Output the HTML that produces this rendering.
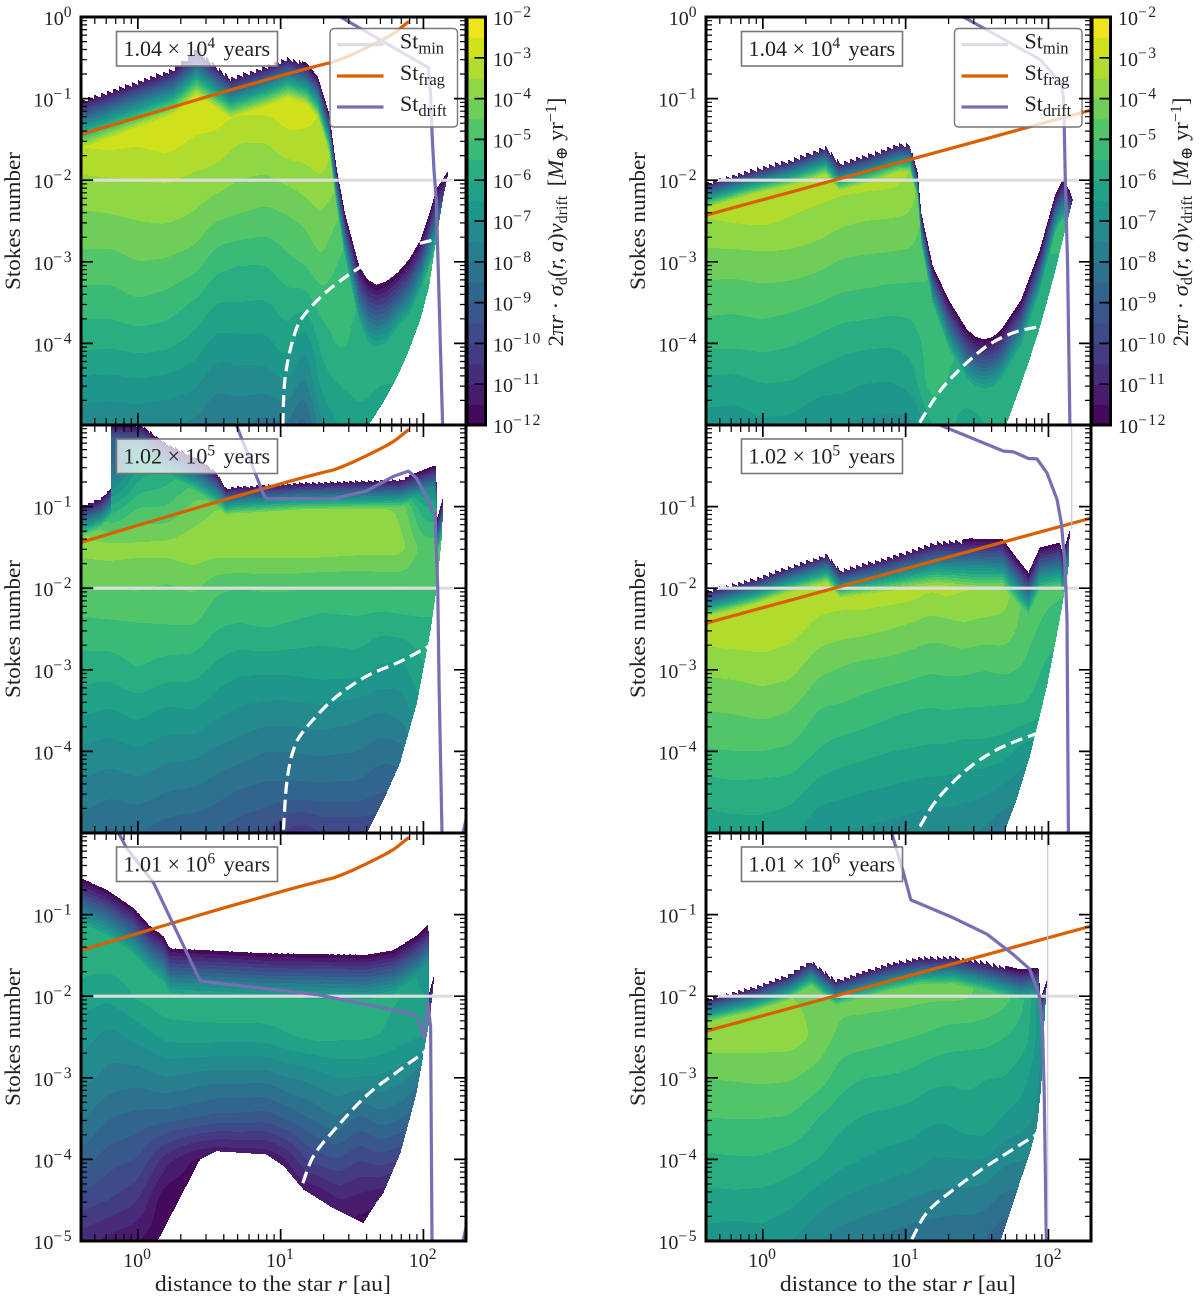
<!DOCTYPE html>
<html lang="en">
<head>
<meta charset="utf-8">
<title>Stokes number maps of dust mass flux</title>
<style>
html,body{margin:0;padding:0;background:#fff}
svg{display:block;font-family:"Liberation Serif","DejaVu Serif",serif;fill:#222}
</style>
</head>
<body>
<svg id="figure" xmlns="http://www.w3.org/2000/svg" width="1200" height="1306" viewBox="0 0 1200 1306"></svg>
<script>
// ---------- shared axes data (log10 values) ----------
const logRadiusNodes = [-0.4,-0.2,0,0.2,0.4,0.55,0.7,0.9,1.05,1.17,1.28,1.4,1.55,1.7,1.85,2.0,2.2];
const logStokesNodes = [-0.5,-1,-1.5,-2,-2.5,-3,-3.5,-4,-4.5,-5];
const yTickExponents = [0,-1,-2,-3,-4,-5];
const xTickExponents = [0,1,2];
const colorbarExponents = [-2,-3,-4,-5,-6,-7,-8,-9,-10,-11,-12];
const stMinValue = -2;
const stMinRange = [-0.31,2.21];
const bandColors = ['#460a5d','#481b6d','#472c7a','#433c83','#3e4a89','#38588c','#32658e','#2c728e','#287e8e','#238a8d','#1f968b','#20a286','#28ae80','#39ba76','#52c469','#6ece58','#8fd745','#b1dc2e','#d0e11c','#efe51c'];

// ---------- panel 1: 1.04e4 yr, left ----------
const panel1Field = [
[-2.3,-2.4,-2.85,-3.6,-4.15,-4.65,-5.25,-5.85,-6.65,-7.35],
[-2.3,-2.4,-2.8,-3.55,-4.1,-4.7,-5.25,-5.9,-6.7,-7.4],
[-2.3,-2.4,-2.9,-3.5,-4,-4.5,-5.05,-5.8,-6.6,-7.4],
[-2.3,-2.4,-2.75,-3.45,-3.95,-4.55,-5.2,-5.85,-6.7,-7.5],
[-2.4,-2.6,-3.05,-3.62,-4.12,-4.75,-5.55,-6.2,-6.9,-7.6],
[-2.5,-2.6,-3.1,-3.75,-4.5,-5.3,-6,-6.7,-7.4,-8],
[-2.6,-2.7,-3.45,-4,-4.6,-5.45,-6,-6.65,-7.3,-7.9],
[-2.6,-2.7,-3.45,-4.1,-4.75,-5.45,-6.05,-6.65,-7.3,-8.2],
[-2.6,-2.6,-3.1,-3.9,-4.6,-5.1,-5.7,-6.2,-7,-8],
[-2.6,-2.6,-3.15,-3.75,-4.4,-4.95,-5.85,-7,-7.8,-9],
[-2.6,-3,-3.1,-3.5,-4.1,-4.5,-5.2,-5.8,-6.3,-7],
[-3,-3.3,-3.5,-3.9,-4.5,-5,-5.4,-5.4,-6,-6.5],
[-5,-5,-5,-5,-5.2,-5.5,-5.5,-5.6,-5.8,-6.2],
[-5,-5,-5,-5,-5.2,-5.4,-5.5,-5.7,-6,-6.3],
[-5,-5,-5,-5,-5.2,-5.4,-5.5,-5.8,-6,-6.3],
[-5,-5,-5,-5,-5.2,-5.4,-5.6,-6,-6,-6],
[-5,-5,-5,-5,-5.2,-5.4,-5.6,-6,-6,-6]];
const panel1TopR = [-0.4,0.25,0.41,0.65,0.91,1.05,1.18,1.26,1.34,1.39,1.45,1.55,1.61,1.67,1.74,1.82,1.9,1.98,2.04,2.09,2.17];
const panel1TopSt = [-1.01,-0.62,-0.38,-0.73,-0.58,-0.48,-0.56,-0.73,-1.18,-1.83,-2.4,-3.05,-3.22,-3.28,-3.24,-3.13,-2.97,-2.73,-2.42,-2.11,-1.89];
const panel1TopFalloff = [15,16,16,18,18,18,18,18,18,16,12,9,8,8,8,9,9,10,10,10,10];
const panel1BottomR = [-0.4,1.61,1.72,1.82,1.9,1.98,2.04,2.09,2.14,2.17];
const panel1BottomSt = [-5.1,-5.02,-4.72,-4.4,-4.08,-3.7,-3.3,-2.73,-2.2,-1.95];
const panel1DriftR = [1.42,2.035,2.05,2.06,2.075,2.09,2.134];
const panel1DriftSt = [0,-0.62,-0.95,-1.42,-1.9,-2.24,-5];
const panel1DashR = [1.015,1.033,1.1,1.18,1.34,1.554,1.75,1.94,2.075];
const panel1DashSt = [-5,-4.4,-3.87,-3.62,-3.34,-3.07,-2.9,-2.79,-2.73];

// ---------- panel 2: 1.04e4 yr, right ----------
const panel2Field = [
[-3.2,-3.2,-3.2,-3.2,-3.52,-4.25,-4.8,-5.4,-6.15,-6.75],
[-3.2,-3.2,-3.2,-3.2,-3.45,-4.25,-4.85,-5.4,-6.2,-6.8],
[-3.1,-3.1,-3.1,-3.1,-3.4,-4.2,-4.75,-5.35,-6,-6.6],
[-3.1,-3.1,-3.1,-3.15,-3.55,-4.2,-4.85,-5.45,-6.05,-6.65],
[-3,-3,-3,-3.2,-3.7,-4.35,-5,-5.65,-6.3,-7],
[-3,-3,-3.1,-3.25,-3.9,-4.55,-5.15,-5.85,-6.35,-7],
[-3,-3,-3.1,-3.3,-4,-4.6,-5.2,-5.9,-6.5,-7.1],
[-3,-3,-3.1,-3.35,-4.05,-4.65,-5.3,-5.95,-6.55,-7.2],
[-3.2,-3.2,-3.3,-3.6,-4.1,-4.7,-5.3,-5.8,-6.3,-7.2],
[-5,-5,-5,-5,-5,-5,-5,-5.2,-5.2,-6],
[-5,-5,-5,-5,-5,-5.1,-5.2,-5.3,-5.5,-5.8],
[-5,-5,-5,-5,-5,-5.1,-5.3,-5.5,-5.8,-6.2],
[-5.5,-5.5,-5.5,-5.5,-5.5,-5.5,-5.5,-5.5,-5.8,-6],
[-5.5,-5.5,-5.5,-5.5,-5.5,-5.5,-5.5,-5.5,-5.8,-6],
[-5.5,-5.5,-5.5,-5.5,-5.5,-5.5,-5.5,-5.7,-5.9,-6],
[-5.5,-5.5,-5.5,-5.5,-5.5,-5.5,-5.7,-6,-6,-6],
[-5.5,-5.5,-5.5,-5.5,-5.5,-5.5,-5.7,-6,-6,-6]];
const panel2TopR = [-0.4,-0.07,0.2,0.44,0.535,0.736,0.95,1.03,1.084,1.11,1.19,1.3,1.43,1.49,1.55,1.61,1.67,1.81,1.94,2.05,2.1,2.15,2.17];
const panel2TopSt = [-2.02,-1.85,-1.73,-1.57,-1.77,-1.67,-1.54,-1.54,-1.91,-2.4,-3.05,-3.46,-3.83,-3.92,-3.95,-3.92,-3.83,-3.46,-2.85,-2.16,-2,-2.13,-2.24];
const panel2TopFalloff = [27,27,26,24,24,24,24,24,24,18,14,11,10,10,10,10,10,11,12,14,14,14,14];
const panel2BottomR = [-0.4,1.7,1.78,1.86,1.93,1.995,2.05,2.1,2.17];
const panel2BottomSt = [-5.1,-5.02,-4.64,-4.24,-3.86,-3.46,-3.1,-2.73,-2.24];
const panel2DriftR = [1.405,1.94,2.09,2.107,2.118,2.134,2.15];
const panel2DriftSt = [0,-0.52,-0.81,-1.01,-1.99,-3.05,-5];
const panel2DashR = [1.098,1.27,1.54,1.754,1.954];
const panel2DashSt = [-4.97,-4.52,-4.07,-3.87,-3.79];

// ---------- panel 3: 1.02e5 yr, left ----------
const panel3Field = [
[-4,-4,-3.8,-4.55,-5.2,-5.75,-6.4,-7.1,-7.65,-8.3],
[-9,-6,-3.75,-4.5,-5.15,-5.8,-6.55,-7.25,-7.9,-8.6],
[-6.5,-5,-3.85,-4.45,-5.1,-5.5,-6.3,-7.05,-7.75,-8.5],
[-6,-5,-3.8,-4.6,-5.05,-5.75,-6.6,-7.3,-8,-8.8],
[-5.5,-4.3,-3.65,-4.4,-5.05,-5.8,-6.5,-7.35,-8.1,-8.9],
[-7,-4,-3.7,-4.9,-5.5,-6.15,-6.85,-7.6,-8.3,-9],
[-9,-3.9,-3.65,-5,-5.6,-6.4,-7.05,-7.75,-8.55,-9.3],
[-9,-3.9,-3.65,-4.95,-5.5,-6.4,-7.2,-8,-8.7,-9.5],
[-9,-3.9,-3.65,-4.95,-5.6,-6.4,-7.2,-8,-8.7,-10.2],
[-9,-3.9,-3.65,-5,-5.7,-6.35,-7.15,-7.95,-8.7,-10.4],
[-9,-3.9,-3.65,-5.05,-5.8,-6.3,-7.1,-7.9,-8.7,-10],
[-9,-3.9,-3.7,-5.05,-5.75,-6.3,-7.2,-7.95,-8.7,-10],
[-9,-3.9,-3.75,-5.05,-5.7,-6.3,-7.3,-8,-8.7,-10],
[-9,-3.9,-3.75,-5,-5.9,-6.6,-7.5,-8.3,-9,-10],
[-8,-4.1,-3.8,-4.95,-5.8,-6.7,-7.3,-8.2,-9,-10],
[-9,-6,-4.7,-5,-5.7,-6,-6.5,-7,-8,-9],
[-9,-6,-4.7,-5,-5.7,-6,-6.5,-7,-8,-9]];
const panel3TopR = [-0.4,-0.26,-0.19,-0.185,0.03,0.2,0.44,0.55,0.62,0.67,1.14,1.84,2.07,2.09,2.095,2.14];
const panel3TopSt = [-0.99,-0.89,-0.77,0.02,0,-0.22,-0.42,-0.57,-0.77,-0.75,-0.7,-0.66,-0.5,-0.5,-1.15,-0.87];
const panel3TopFalloff = [20,20,20,17,17,17,17,18,24,24,24,22,18,16,16,16];
const panel3BottomR = [-0.4,1.6,1.72,1.837,1.954,2.047,2.094,2.13,2.14];
const panel3BottomSt = [-5.1,-5.02,-4.6,-4.14,-3.41,-2.55,-1.98,-1.36,-0.87];
const panel3DriftR = [0.69,0.88,0.903,1.37,1.6,1.79,1.895,1.95,2.035,2.06,2.08,2.1,2.11,2.13];
const panel3DriftSt = [0,-0.85,-0.905,-0.905,-0.81,-0.63,-0.565,-0.65,-0.915,-1.056,-1.08,-1.975,-3.2,-5];
const panel3DashR = [1.02,1.043,1.09,1.17,1.37,1.6,1.837,2.06];
const panel3DashSt = [-4.96,-4.38,-3.98,-3.73,-3.36,-3.08,-2.9,-2.69];

// ---------- panel 4: 1.02e5 yr, right ----------
const panel4Field = [
[-3.1,-3.1,-3.1,-3.1,-3.2,-3.9,-4.5,-5.05,-5.8,-6.3],
[-3.1,-3.1,-3.1,-3,-3.15,-3.85,-4.45,-5,-5.7,-6.25],
[-3,-3,-3,-3,-3.15,-3.75,-4.35,-5,-5.75,-6.2],
[-3,-3,-3,-3,-3.3,-3.85,-4.5,-5.1,-5.8,-6.4],
[-3,-3,-3,-3.1,-3.7,-4.4,-5.05,-5.55,-6.3,-6.95],
[-3,-3,-3,-3.15,-3.8,-4.55,-5.1,-5.75,-6.4,-7],
[-3,-3,-3,-3.1,-3.85,-4.7,-5.2,-5.85,-6.5,-7.1],
[-3,-3,-3,-3.15,-4,-4.75,-5.4,-6,-6.6,-7.2],
[-3,-3,-3,-3.2,-4.15,-4.85,-5.5,-6.05,-6.7,-7.3],
[-3,-3,-3,-3.45,-4.3,-4.95,-5.55,-6.1,-6.75,-7.4],
[-3.1,-3.1,-3.1,-3.3,-4.25,-4.9,-5.5,-6.1,-6.75,-7.4],
[-3,-3,-3,-3.45,-4.1,-4.9,-5.55,-6.2,-6.85,-7.4],
[-3.5,-3.5,-3.4,-3.5,-4.2,-5,-5.55,-6.2,-6.9,-7.6],
[-3.7,-3.7,-3.6,-3.7,-4.2,-4.9,-5.6,-6.3,-7.2,-8],
[-5,-5,-5,-4.7,-4.8,-5.1,-5.6,-6.8,-7.5,-8],
[-5,-5,-5,-4.8,-5.2,-5.7,-6,-7,-8,-8],
[-5,-5,-5,-5,-5.5,-6,-6,-7,-8,-8]];
const panel4TopR = [-0.4,-0.065,0.17,0.45,0.54,0.87,1.22,1.45,1.68,1.77,1.86,1.94,2.08,2.1,2.15];
const panel4TopSt = [-2.02,-1.87,-1.73,-1.57,-1.76,-1.61,-1.42,-1.39,-1.4,-1.61,-1.81,-1.5,-1.44,-1.57,-1.28];
const panel4TopFalloff = [26,26,26,24,24,20,16,14,14,14,14,14,14,14,14];
const panel4BottomR = [-0.4,1.685,1.778,1.87,1.99,2.08,2.14,2.15];
const panel4BottomSt = [-5.1,-5.02,-4.59,-4.06,-3.2,-2.38,-1.77,-1.28];
const panel4DriftR = [1.24,1.685,1.755,1.86,1.92,1.99,2.06,2.09,2.117,2.13,2.14];
const panel4DriftSt = [0,-0.32,-0.33,-0.41,-0.415,-0.59,-0.91,-1.2,-1.73,-2.38,-5];
const panel4DashR = [1.1,1.22,1.43,1.66,1.95];
const panel4DashSt = [-4.92,-4.59,-4.22,-3.96,-3.76];

// ---------- panel 5: 1.01e6 yr, left ----------
const panel5Field = [
[-8,-5.7,-5.7,-6.25,-6.75,-7.3,-7.9,-8.7,-9.7,-10.8],
[-8,-5.7,-5.7,-6.4,-7.2,-7.7,-8.5,-9.3,-10,-11.2],
[-8,-5.7,-5.7,-5.9,-6.85,-7.8,-8.7,-9.5,-10.45,-11.5],
[-8,-5.7,-5.7,-5.55,-6.35,-7.5,-8.8,-10.8,-12,-12],
[-8,-5.7,-5.7,-5.5,-6.3,-7.7,-9,-11.6,-12,-12],
[-8,-5.7,-5.7,-5.45,-6.3,-7.8,-9.2,-11.8,-12,-12],
[-8,-5.7,-5.7,-5.4,-6.3,-7.8,-9.2,-11.7,-12,-12],
[-8,-5.7,-5.7,-5.4,-6.3,-7.8,-9.3,-11.6,-12,-12],
[-8,-5.7,-5.7,-5.4,-6.05,-7.5,-8.9,-11,-12,-12],
[-8,-5.7,-5.7,-5.6,-5.9,-7.4,-8.6,-10,-11.8,-12],
[-8,-5.7,-5.7,-5.7,-5.85,-7.2,-8.3,-9.7,-11.6,-12],
[-8,-5.7,-5.7,-5.8,-5.9,-7,-8,-9.5,-11,-12],
[-8,-5.7,-5.7,-5.8,-5.9,-7,-8.7,-10,-11.2,-12],
[-8,-5.7,-5.7,-5.8,-6,-7.1,-8.2,-9.7,-11.5,-12],
[-8,-6,-6,-6,-6.3,-7.3,-8.5,-10,-12,-12],
[-9,-8,-7,-6.5,-6.5,-8,-9,-10,-12,-12],
[-9,-8,-7,-6.5,-6.5,-8,-9,-10,-12,-12]];
const panel5TopR = [-0.4,-0.22,-0.03,0.086,0.18,0.226,0.9,1.6,1.79,1.95,2.035,2.04,2.07,2.075];
const panel5TopSt = [-0.55,-0.69,-0.915,-1.14,-1.26,-1.41,-1.47,-1.49,-1.43,-1.26,-1.12,-1.96,-1.77,-1.77];
const panel5TopFalloff = [11,11,11,11,11,11,11,11,11,11,11,11,11,11];
const panel5BottomR = [-0.4,0.133,0.436,0.55,0.9,1.02,1.16,1.37,1.58,1.67,1.72,1.84,1.953,2.035,2.05,2.075];
const panel5BottomSt = [-5.1,-5.02,-4,-3.9,-3.94,-4.08,-4.37,-4.6,-4.78,-4.53,-4.41,-3.92,-3.18,-2.37,-2.2,-1.77];
const panel5DriftR = [-0.135,-0.08,0.11,0.436,0.46,1.253,1.6,1.93,1.965,2.005,2.03,2.05,2.06];
const panel5DriftSt = [0,-0.18,-0.61,-1.81,-1.82,-1.98,-2.1,-2.22,-2.28,-2.51,-2.08,-2.37,-5];
const panel5DashR = [1.155,1.23,1.37,1.6,1.837,2.05];
const panel5DashSt = [-4.29,-3.96,-3.65,-3.22,-2.9,-2.63];

// ---------- panel 6: 1.01e6 yr, right ----------
const panel6Field = [
[-4,-4,-4,-4.2,-3.7,-4.5,-5,-5.6,-6.2,-6.7],
[-4,-4,-4,-4.1,-3.7,-4.45,-5,-5.55,-6.15,-6.85],
[-4,-4,-4,-4,-3.75,-4.4,-5,-5.55,-6.2,-6.7],
[-4,-4,-4,-4,-3.75,-4.45,-5.05,-5.75,-6.35,-7],
[-4.2,-4.2,-4.2,-4.15,-4.15,-4.75,-5.55,-6,-6.8,-7.5],
[-4.2,-4.2,-4.2,-4.3,-4.7,-5.3,-5.85,-6.35,-7.05,-7.8],
[-4.2,-4.2,-4.2,-4.3,-4.75,-5.5,-6.05,-6.5,-7.2,-7.9],
[-4.2,-4.2,-4.2,-4.3,-4.9,-5.55,-6.15,-6.7,-7.35,-8.2],
[-4.2,-4.2,-4.2,-4.35,-5,-5.65,-6.25,-6.75,-7.55,-8.35],
[-4.2,-4.2,-4.2,-4.4,-5.1,-5.85,-6.4,-7,-7.65,-8.4],
[-4.2,-4.2,-4.2,-4.4,-5.25,-5.9,-6.45,-7.05,-7.7,-8.5],
[-4.3,-4.3,-4.3,-4.4,-5.3,-5.9,-6.2,-7,-7.7,-8.5],
[-5,-5,-4.8,-4.6,-5.3,-6,-6.1,-7,-7.8,-8.5],
[-5.5,-5.5,-5.2,-4.8,-5.5,-6,-6.6,-7.4,-8.2,-9],
[-6,-6,-5.8,-5.5,-5.8,-6.4,-6.8,-7.5,-8.2,-9],
[-9,-9,-8.5,-8,-7.5,-7.5,-7.6,-8,-8.5,-9],
[-9,-9,-8.5,-8,-7.5,-7.5,-7.6,-8,-8.5,-9]];
const panel6TopR = [-0.4,-0.065,0.17,0.34,0.51,0.87,1.1,1.33,1.57,1.8,1.93,1.945,1.99];
const panel6TopSt = [-2.02,-1.875,-1.73,-1.55,-1.79,-1.59,-1.51,-1.5,-1.57,-1.67,-1.65,-2.04,-1.79];
const panel6TopFalloff = [27,26,25,24,24,22,22,22,20,18,18,18,18];
const panel6BottomR = [-0.4,1.66,1.73,1.8,1.87,1.92,1.95,1.965,1.99];
const panel6BottomSt = [-5.1,-5.02,-4.66,-4.28,-3.92,-3.6,-3.1,-2.53,-1.79];
const panel6DriftR = [0.905,0.985,1.036,1.335,1.57,1.755,1.87,1.937,1.96,1.97,1.985];
const panel6DriftSt = [-0.02,-0.486,-0.82,-1.04,-1.24,-1.49,-1.67,-2,-2.45,-3.18,-5];
const panel6DashR = [1.043,1.15,1.335,1.57,1.92];
const panel6DashSt = [-4.98,-4.65,-4.37,-4.08,-3.69];

// ---------- St_frag curves ----------
const fragLeftR = [-0.4,0,0.5,1,1.3,1.37,1.5,1.7,1.8,1.9];
const fragLeftSt = [-1.44,-1.23,-0.97,-0.72,-0.58,-0.55,-0.46,-0.29,-0.19,-0.05];
const fragRightR = [-0.4,2.3];
const fragRightSt = [-2.43,-1.14];
// ---------- thin extra drift segments ----------
const tailR = [2.27,2.31];
const tailSt = [-5.05,-4.75];
const panel4FaintR = [2.163,2.163];
const panel4FaintSt = [0,-1.28];
const panel6FaintR = [1.995,1.995];
const panel6FaintSt = [0,-4.95];

// ---------- figure layout ----------
const DECADE_X = 142.8, DECADE_Y = 81.6, LOG_R_MIN = -0.398, LOG_R_MAX = 2.301, PANEL_W = 385, PANEL_H = 408;
const panels = [
 {id:'panel-1',x0:81,y0:17,field:panel1Field,topR:panel1TopR,topSt:panel1TopSt,topK:panel1TopFalloff,botR:panel1BottomR,botSt:panel1BottomSt,driftR:panel1DriftR,driftSt:panel1DriftSt,dashR:panel1DashR,dashSt:panel1DashSt,fragR:fragLeftR,fragSt:fragLeftSt,mant:'1.04',exp:'4',row:0,col:0,tooth:0.06,toothEnd:1.15},
 {id:'panel-2',x0:706,y0:17,field:panel2Field,topR:panel2TopR,topSt:panel2TopSt,topK:panel2TopFalloff,botR:panel2BottomR,botSt:panel2BottomSt,driftR:panel2DriftR,driftSt:panel2DriftSt,dashR:panel2DashR,dashSt:panel2DashSt,fragR:fragRightR,fragSt:fragRightSt,mant:'1.04',exp:'4',row:0,col:1,tooth:0.06,toothEnd:1.05},
 {id:'panel-3',x0:81,y0:425,field:panel3Field,topR:panel3TopR,topSt:panel3TopSt,topK:panel3TopFalloff,botR:panel3BottomR,botSt:panel3BottomSt,driftR:panel3DriftR,driftSt:panel3DriftSt,dashR:panel3DashR,dashSt:panel3DashSt,fragR:fragLeftR,fragSt:fragLeftSt,mant:'1.02',exp:'5',row:1,col:0,tooth:0.03,toothEnd:1.9,tailR:tailR,tailSt:tailSt},
 {id:'panel-4',x0:706,y0:425,field:panel4Field,topR:panel4TopR,topSt:panel4TopSt,topK:panel4TopFalloff,botR:panel4BottomR,botSt:panel4BottomSt,driftR:panel4DriftR,driftSt:panel4DriftSt,dashR:panel4DashR,dashSt:panel4DashSt,fragR:fragRightR,fragSt:fragRightSt,mant:'1.02',exp:'5',row:1,col:1,tooth:0.055,toothEnd:1.4,faintR:panel4FaintR,faintSt:panel4FaintSt},
 {id:'panel-5',x0:81,y0:833,field:panel5Field,topR:panel5TopR,topSt:panel5TopSt,topK:panel5TopFalloff,botR:panel5BottomR,botSt:panel5BottomSt,driftR:panel5DriftR,driftSt:panel5DriftSt,dashR:panel5DashR,dashSt:panel5DashSt,fragR:fragLeftR,fragSt:fragLeftSt,mant:'1.01',exp:'6',row:2,col:0,tooth:0.008,toothEnd:1.9,tailR:tailR,tailSt:tailSt},
 {id:'panel-6',x0:706,y0:833,field:panel6Field,topR:panel6TopR,topSt:panel6TopSt,topK:panel6TopFalloff,botR:panel6BottomR,botSt:panel6BottomSt,driftR:panel6DriftR,driftSt:panel6DriftSt,dashR:panel6DashR,dashSt:panel6DashSt,fragR:fragRightR,fragSt:fragRightSt,mant:'1.01',exp:'6',row:2,col:1,tooth:0.05,toothEnd:1.7,faintR:panel6FaintR,faintSt:panel6FaintSt}
];

const NS = 'http://www.w3.org/2000/svg';
const svg = document.getElementById('figure');
function make(tag, attrs, parent){
  const e = document.createElementNS(NS, tag);
  for(const k in attrs) e.setAttribute(k, attrs[k]);
  (parent || svg).appendChild(e);
  return e;
}
function span(parent, str, attrs){
  const t = document.createElementNS(NS, 'tspan');
  if(attrs) for(const k in attrs) t.setAttribute(k, attrs[k]);
  t.textContent = str;
  parent.appendChild(t);
}
function lerp1(xs, ys, x){
  if(x <= xs[0]) return ys[0];
  const n = xs.length - 1;
  if(x >= xs[n]) return ys[n];
  for(let i = 0; i < n; i++){
    if(x <= xs[i+1]){
      const d = xs[i+1] - xs[i];
      return d > 0 ? ys[i] + (ys[i+1] - ys[i]) * (x - xs[i]) / d : ys[i+1];
    }
  }
  return ys[n];
}
function xScale(p, lr){ return p.x0 + (lr - LOG_R_MIN) * DECADE_X; }
function yScale(p, ls){ return p.y0 - ls * DECADE_Y; }
function fieldAt(field, lr, ls){
  const xs = logRadiusNodes, ys = logStokesNodes;
  let i = 0;
  while(i < xs.length - 2 && lr > xs[i+1]) i++;
  const tx = Math.max(0, Math.min(1, (lr - xs[i]) / (xs[i+1] - xs[i])));
  let fj = (-0.5 - ls) / 0.5;
  fj = Math.max(0, Math.min(ys.length - 1.0001, fj));
  const j = Math.floor(fj), ty = fj - j;
  const a = field[i][j] * (1 - ty) + field[i][j+1] * ty;
  const b = field[i+1][j] * (1 - ty) + field[i+1][j+1] * ty;
  return a * (1 - tx) + b * tx;
}
// box-smooth the interpolated field so that the bands read as smooth contours
function smoothGrid(grid, w, h, rx, ry){
  const out = new Float32Array(w * h);
  for(let r = 0; r < h; r++){
    for(let c = 0; c < w; c++){
      let s = 0, n = 0;
      for(let d = -rx; d <= rx; d++){
        const cc = Math.max(0, Math.min(w - 1, c + d));
        s += grid[cc * h + r]; n++;
      }
      out[c * h + r] = s / n;
    }
  }
  const res = new Float32Array(w * h);
  for(let c = 0; c < w; c++){
    for(let r = 0; r < h; r++){
      let s = 0, n = 0;
      for(let d = -ry; d <= ry; d++){
        const rr = Math.max(0, Math.min(h - 1, r + d));
        s += out[c * h + rr]; n++;
      }
      res[c * h + r] = s / n;
    }
  }
  return res;
}
function drawField(p, group){
  const paths = bandColors.map(function(){ return []; });
  const rMin = p.topR[0], rMax = p.topR[p.topR.length - 1];
  let grid = new Float32Array(PANEL_W * PANEL_H);
  for(let c = 0; c < PANEL_W; c++){
    const lr = LOG_R_MIN + (c + 0.5) / DECADE_X;
    for(let r = 0; r < PANEL_H; r++){
      grid[c * PANEL_H + r] = fieldAt(p.field, lr, -(r + 0.5) / DECADE_Y);
    }
  }
  grid = smoothGrid(grid, PANEL_W, PANEL_H, 5, 4);
  grid = smoothGrid(grid, PANEL_W, PANEL_H, 5, 4);
  for(let c = 0; c < PANEL_W; c++){
    const lr = LOG_R_MIN + (c + 0.5) / DECADE_X;
    if(lr < rMin - 0.01 || lr > rMax) continue;
    const top = lerp1(p.topR, p.topSt, lr);
    let maskTop = top;
    if(lr < p.toothEnd){
      const f = lr * 23 - Math.floor(lr * 23);
      maskTop -= p.tooth * f;
    }
    const bot = lerp1(p.botR, p.botSt, lr);
    const k = lerp1(p.topR, p.topK, lr);
    let runBand = -1, runStart = 0;
    for(let r = 0; r <= PANEL_H; r++){
      let band = -1;
      if(r < PANEL_H){
        const ls = -(r + 0.5) / DECADE_Y;
        if(ls <= maskTop && ls >= bot){
          let v = grid[c * PANEL_H + r];
          const edge = -12.05 + (top - ls) * k;
          if(edge < v) v = edge;
          band = Math.floor((v + 12) / 0.5);
          if(band < 0) band = 0;
          if(band > 19) band = 19;
        }
      }
      if(band !== runBand){
        if(runBand >= 0){
          paths[runBand].push('M' + (p.x0 + c) + ' ' + (p.y0 + runStart) + 'h1v' + (r - runStart) + 'h-1z');
        }
        runBand = band;
        runStart = r;
      }
    }
  }
  paths.forEach(function(d, i){
    if(!d.length) return;
    const band = make('path', {d:d.join(''), fill:bandColors[i], 'shape-rendering':'crispEdges'}, group);
    
    
  });
}
function polyPoints(p, rs, sts){
  return rs.map(function(r, i){ return xScale(p, r).toFixed(1) + ',' + yScale(p, sts[i]).toFixed(1); }).join(' ');
}
function smoothPath(p, rs, sts){
  const pts = rs.map(function(r, i){ return [xScale(p, r), yScale(p, sts[i])]; });
  let d = 'M' + pts[0][0].toFixed(1) + ' ' + pts[0][1].toFixed(1);
  for(let i = 0; i < pts.length - 1; i++){
    const a = pts[Math.max(0, i-1)], b = pts[i], c = pts[i+1], e = pts[Math.min(pts.length-1, i+2)];
    d += 'C' + (b[0] + (c[0]-a[0])/6).toFixed(1) + ' ' + (b[1] + (c[1]-a[1])/6).toFixed(1) + ' ' +
         (c[0] - (e[0]-b[0])/6).toFixed(1) + ' ' + (c[1] - (e[1]-b[1])/6).toFixed(1) + ' ' +
         c[0].toFixed(1) + ' ' + c[1].toFixed(1);
  }
  return d;
}
function powerLabel(parent, x, y, anchor, exponent, size){
  const t = make('text', {x:x, y:y, 'text-anchor':anchor, 'font-size':size}, parent);
  span(t, '10');
  span(t, String(exponent).replace('-', '\u2212'), {dy:-8, 'font-size':size * 0.78, 'letter-spacing':1.5});
  return t;
}

panels.forEach(function(p){
  const g = make('g', {});
  
  

  const clip = make('clipPath', {id:'clip-' + p.id}, g);
  make('rect', {x:p.x0, y:p.y0, width:PANEL_W, height:PANEL_H}, clip);

  const fieldGroup = make('g', {}, g);
  
  
  drawField(p, fieldGroup);

  const lines = make('g', {'clip-path':'url(#clip-' + p.id + ')', fill:'none', 'stroke-linejoin':'round'}, g);

  const dash = make('path', {d:smoothPath(p, p.dashR, p.dashSt), stroke:'#fff', 'stroke-width':3.2, 'stroke-dasharray':'12 6'}, lines);
  
  

  const minLine = make('polyline', {points:polyPoints(p, stMinRange, [stMinValue, stMinValue]), stroke:'#dddddd', 'stroke-width':3.2}, lines);
  
  

  const fragLine = make('path', {d:smoothPath(p, p.fragR, p.fragSt), stroke:'#d95f02', 'stroke-width':3.2}, lines);
  
  

  const driftLine = make('polyline', {points:polyPoints(p, p.driftR, p.driftSt), stroke:'#7570b3', 'stroke-width':3.2}, lines);
  
  

  if(p.tailR){
    const tail = make('polyline', {points:polyPoints(p, p.tailR, p.tailSt), stroke:'#7570b3', 'stroke-width':3.2}, lines);
    
    
  }
  if(p.faintR){
    const faint = make('polyline', {points:polyPoints(p, p.faintR, p.faintSt), stroke:'#c6c6dc', 'stroke-width':1.2}, lines);
    
    
  }

  // time label box
  const boxY = [31.5, 439, 847][p.row];
  const boxX = p.col === 0 ? 116.5 : 741.5;
  const box = make('rect', {x:boxX, y:boxY, width:161, height:34.5, fill:'#fff', 'fill-opacity':0.72, stroke:'#777', 'stroke-width':1.6}, g);
  
  
  const timeText = make('text', {x:boxX + 7, y:boxY + 24.5, 'font-size':22}, g);
  
  
  span(timeText, p.mant + ' \u00d7 10');
  span(timeText, p.exp, {dy:-8, 'font-size':15.5});
  span(timeText, ' years', {dy:8, dx:3});

  // legend in the top row
  if(p.row === 0){
    const lx = p.col === 0 ? 330 : 954.5;
    const legend = make('g', {}, g);
    
    
    make('rect', {x:lx, y:28.5, width:127.5, height:98.5, rx:4, fill:'#fff', 'fill-opacity':0.78, stroke:'#777', 'stroke-width':1.4}, legend);
    const entries = [['min','#dddddd',44.7],['frag','#d95f02',76],['drift','#7570b3',107]];
    entries.forEach(function(en){
      const swatch = make('line', {x1:lx + 7, x2:lx + 53.5, y1:en[2], y2:en[2], stroke:en[1], 'stroke-width':3.2}, legend);
      
      
      const lab = make('text', {x:lx + 70, y:en[2] + 4, 'font-size':22}, legend);
      
      
      span(lab, 'St');
      span(lab, en[0], {dy:5, 'font-size':16.5});
    });
  }

  // ticks
  let major = '', minor = '';
  const xL = p.x0, xR = p.x0 + PANEL_W, yT = p.y0, yB = p.y0 + PANEL_H;
  yTickExponents.forEach(function(e){
    const y = yScale(p, e);
    major += 'M' + xL + ' ' + y + 'h12M' + xR + ' ' + y + 'h-12';
    if(e > -5){
      for(let m = 2; m < 10; m++){
        const ym = yScale(p, e - 1 + Math.log10(m));
        minor += 'M' + xL + ' ' + ym.toFixed(1) + 'h6M' + xR + ' ' + ym.toFixed(1) + 'h-6';
      }
    }
  });
  xTickExponents.forEach(function(e){
    const x = xScale(p, e);
    major += 'M' + x + ' ' + yT + 'v12M' + x + ' ' + yB + 'v-12';
  });
  [-1,0,1,2].forEach(function(e){
    for(let m = 2; m < 10; m++){
      const lr = e + Math.log10(m);
      if(lr < LOG_R_MIN || lr > LOG_R_MAX) continue;
      const x = xScale(p, lr).toFixed(1);
      minor += 'M' + x + ' ' + yT + 'v7M' + x + ' ' + yB + 'v-7';
    }
  });
  const minorTicks = make('path', {d:minor, stroke:'#000', 'stroke-width':1.2, fill:'none'}, g);
  
  
  const majorTicks = make('path', {d:major, stroke:'#000', 'stroke-width':1.7, fill:'none'}, g);
  
  

  const spine = make('rect', {x:xL, y:yT, width:PANEL_W, height:PANEL_H, fill:'none', stroke:'#000', 'stroke-width':3}, g);
  
  

  // y tick labels
  yTickExponents.forEach(function(e){
    if(e === 0 && p.row !== 0) return;
    if(e === -5 && p.row !== 2) return;
    const lab = powerLabel(g, p.x0 - 8, yScale(p, e) + 8, 'end', e, 20);
    
    
  });

  // y axis title
  const yTitleX = p.col === 0 ? 20 : 645;
  const yTitle = make('text', {transform:'translate(' + yTitleX + ',' + (p.y0 + 204) + ') rotate(-90)', 'text-anchor':'middle', 'font-size':22, textLength:138, lengthAdjust:'spacingAndGlyphs'}, g);
  
  
  yTitle.textContent = 'Stokes number';

  // x labels on the bottom row
  if(p.row === 2){
    xTickExponents.forEach(function(e){
      const lab = powerLabel(g, xScale(p, e), 1267, 'middle', e, 20);
      
      
    });
    const xTitle = make('text', {x:xScale(p, 0) + 135, y:1291, 'text-anchor':'middle', 'font-size':22, textLength:236, lengthAdjust:'spacingAndGlyphs'}, g);
    
    
    span(xTitle, 'distance to the star ');
    span(xTitle, 'r', {'font-style':'italic'});
    span(xTitle, ' [au]');
  }
});

// colorbars
[{x:467,title:556,labelX:493},{x:1092,title:1181,labelX:1118}].forEach(function(cb){
  const g = make('g', {});
  
  
  const top = 17, h = 408, w = 18.5;
  bandColors.forEach(function(col, i){
    const bh = h / bandColors.length;
    const seg = make('rect', {x:cb.x, y:top + h - (i + 1) * bh, width:w, height:bh + 0.4, fill:col}, g);
    
    
  });
  let d = '';
  colorbarExponents.forEach(function(e){
    const y = top + (-2 - e) * h / 10;
    d += 'M' + (cb.x + w) + ' ' + y + 'h-11';
  });
  const ticks = make('path', {d:d, stroke:'#000', 'stroke-width':1.7}, g);
  
  
  const frame = make('rect', {x:cb.x, y:top, width:w, height:h, fill:'none', stroke:'#000', 'stroke-width':3}, g);
  
  
  colorbarExponents.forEach(function(e){
    const y = top + (-2 - e) * h / 10;
    const lab = powerLabel(g, cb.labelX, y + 8, 'start', e, 20);
    
    
  });
  const title = make('text', {transform:'translate(' + (cb.title + 7) + ',222) rotate(-90)', 'text-anchor':'middle', 'font-size':22.5}, g);
  
  
  span(title, '2\u03c0');
  span(title, 'r', {'font-style':'italic'});
  span(title, ' \u00b7 ');
  span(title, '\u03c3', {'font-style':'italic'});
  span(title, 'd', {dy:4, 'font-size':16});
  span(title, '(', {dy:-4});
  span(title, 'r, a', {'font-style':'italic'});
  span(title, ')');
  span(title, 'v', {'font-style':'italic'});
  span(title, 'drift', {dy:4, 'font-size':16});
  span(title, ' [', {dy:-4, dx:4});
  span(title, 'M', {'font-style':'italic'});
  span(title, '\u2295', {dy:4, 'font-size':16});
  span(title, ' yr', {dy:-4});
  span(title, '\u22121', {dy:-7, 'font-size':16});
  span(title, ']', {dy:7});
});
</script>
</body>
</html>
